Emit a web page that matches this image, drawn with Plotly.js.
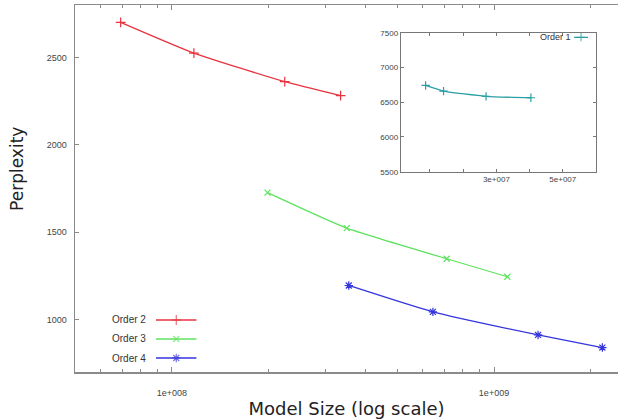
<!DOCTYPE html>
<html>
<head>
<meta charset="utf-8">
<script src="https://cdn.plot.ly/plotly-3.0.1.min.js"></script>
<style>html,body{margin:0;padding:0;background:#fff;}#chart{width:618px;height:419px;}</style>
</head>
<body>
<div id="chart"></div>
<script>
// Main chart data (model size vs perplexity)
const order2X = [6.93e7, 1.17e8, 2.24e8, 3.34e8];
const order2Y = [2701, 2525, 2361, 2281];
const order3X = [1.98e8, 3.49e8, 7.13e8, 1.10e9];
const order3Y = [1726, 1523, 1348, 1245];
const order4X = [3.54e8, 6.46e8, 1.37e9, 2.17e9];
const order4Y = [1195, 1044, 912, 840];
// Inset data
const order1X = [8.7e6, 1.41e7, 2.69e7, 4.04e7];
const order1Y = [6741, 6660, 6584, 6564];
// Tick labels
const mainXTicks = [1e8, 1e9];
const mainXTickText = ['1e+008', '1e+009'];
const mainXMinor = [6e7, 7e7, 8e7, 9e7, 2e8, 3e8, 4e8, 5e8, 6e8, 7e8, 8e8, 9e8, 2e9];
const mainYTicks = [1000, 1500, 2000, 2500];
const insetXTicks = [3e7, 5e7];
const insetXTickText = ['3e+007', '5e+007'];
const insetXMinor = [1e7, 2e7, 4e7];
const insetYTicks = [5500, 6000, 6500, 7000, 7500];
const seriesNames = ['Order 2', 'Order 3', 'Order 4'];
const colors = {o1: '#2a9fa6', o2: '#e8333f', o3: '#5ee35e', o4: '#3535dd'};

function series(x, y, color, symbol, xa, ya, msize) {
  return {
    x: x, y: y, xaxis: xa, yaxis: ya, type: 'scatter', mode: 'lines+markers',
    line: {color: color, width: 1.3, shape: 'spline', smoothing: 0.5},
    marker: {symbol: symbol, size: msize || 7, color: color, line: {color: color, width: 1.2}},
    showlegend: false, hoverinfo: 'skip'
  };
}

const traces = [
  series(order2X, order2Y, colors.o2, 'cross-thin', 'x', 'y', 7),
  series(order3X, order3Y, colors.o3, 'x-thin', 'x', 'y', 6),
  series(order4X, order4Y, colors.o4, 'asterisk-open', 'x', 'y', 7),
  series(order1X, order1Y, colors.o1, 'cross-thin', 'x2', 'y2', 6),
  // legend samples (helper axes)
  {x: [0, 0.5, 1], y: [2, 2, 2], xaxis: 'x3', yaxis: 'y3', mode: 'lines+markers', line: {color: colors.o2, width: 1.3},
   marker: {symbol: 'cross-thin', size: [0, 7, 0], color: colors.o2, line: {color: colors.o2, width: 1.2}}, showlegend: false, hoverinfo: 'skip'},
  {x: [0, 0.5, 1], y: [1, 1, 1], xaxis: 'x3', yaxis: 'y3', mode: 'lines+markers', line: {color: colors.o3, width: 1.3},
   marker: {symbol: 'x-thin', size: [0, 6, 0], color: colors.o3, line: {color: colors.o3, width: 1.2}}, showlegend: false, hoverinfo: 'skip'},
  {x: [0, 0.5, 1], y: [0, 0, 0], xaxis: 'x3', yaxis: 'y3', mode: 'lines+markers', line: {color: colors.o4, width: 1.3},
   marker: {symbol: 'asterisk-open', size: [0, 7, 0], color: colors.o4, line: {color: colors.o4, width: 1.2}}, showlegend: false, hoverinfo: 'skip'},
  {x: [0, 0.5, 1], y: [0, 0, 0], xaxis: 'x4', yaxis: 'y4', mode: 'lines+markers', line: {color: colors.o1, width: 1.3},
   marker: {symbol: 'cross-thin', size: [0, 6, 0], color: colors.o1, line: {color: colors.o1, width: 1.2}}, showlegend: false, hoverinfo: 'skip'}
];

const tickFont = {family: 'Liberation Sans, Arial, sans-serif', size: 9, color: '#444'};
const axisGray = '#8a8a8a';

const layout = {
  width: 618, height: 419,
  margin: {l: 75, r: 0, t: 5, b: 47},
  paper_bgcolor: '#ffffff', plot_bgcolor: 'rgba(0,0,0,0)',
  showlegend: false,
  xaxis: {
    type: 'log', range: [Math.log10(5e7), 9.385],
    tickmode: 'array', tickvals: mainXTicks, ticktext: mainXTickText,
    ticks: 'inside', ticklen: 5, tickwidth: 1, tickcolor: axisGray,
    minor: {tickmode: 'array', tickvals: mainXMinor, ticks: 'inside', ticklen: 3, tickcolor: axisGray, showgrid: false},
    showline: true, linecolor: axisGray, linewidth: 1.5, mirror: 'ticks',
    showgrid: false, zeroline: false, tickfont: tickFont, ticklabelstandoff: 12,
    title: {text: 'Model Size (log scale)', font: {family: 'DejaVu Sans, Verdana, sans-serif', size: 18, color: '#222'}, standoff: 8},
    automargin: false
  },
  yaxis: {
    range: [700, 2800], tickmode: 'array', tickvals: mainYTicks,
    ticks: 'inside', ticklen: 4, tickwidth: 1, tickcolor: axisGray,
    showline: true, linecolor: axisGray, linewidth: 1.5, mirror: false,
    showgrid: false, zeroline: false, tickfont: tickFont, ticklabelstandoff: 5,
    automargin: false
  },
  xaxis2: {
    domain: [0.5998, 0.9595], anchor: 'y2', range: [1.2e6, 6.0e7],
    tickmode: 'array', tickvals: insetXTicks, ticktext: insetXTickText,
    ticks: 'inside', ticklen: 3, tickcolor: '#777',
    minor: {tickmode: 'array', tickvals: insetXMinor, ticks: 'inside', ticklen: 3, tickcolor: '#777', showgrid: false},
    showline: true, linecolor: '#777', linewidth: 1, mirror: 'ticks',
    showgrid: false, zeroline: false, tickfont: {family: 'Liberation Sans, Arial, sans-serif', size: 8, color: '#444'},
    automargin: false
  },
  yaxis2: {
    domain: [0.5458, 0.9245], anchor: 'x2', range: [5500, 7500],
    tickmode: 'array', tickvals: insetYTicks,
    ticks: 'inside', ticklen: 3, tickcolor: '#777',
    showline: true, linecolor: '#777', linewidth: 1, mirror: 'ticks',
    showgrid: false, zeroline: false, tickfont: {family: 'Liberation Sans, Arial, sans-serif', size: 8, color: '#444'},
    automargin: false
  },
  xaxis3: {domain: [0.149, 0.224], anchor: 'y3', range: [0, 1], visible: false, fixedrange: true},
  yaxis3: {domain: [0.01226, 0.1676], anchor: 'x3', range: [-0.5, 2.5], visible: false, fixedrange: true},
  xaxis4: {domain: [0.919, 0.9448], anchor: 'y4', range: [0, 1], visible: false, fixedrange: true},
  yaxis4: {domain: [0.9, 0.924], anchor: 'x4', range: [-1, 1], visible: false, fixedrange: true},
  annotations: [
    {text: 'Perplexity', textangle: -90, xref: 'paper', yref: 'paper', x: -0.107, y: (372 - 169) / 367,
     xanchor: 'center', yanchor: 'middle', showarrow: false,
     font: {family: 'DejaVu Sans, Verdana, sans-serif', size: 17, color: '#222'}},
    {text: seriesNames[0], xref: 'x3', yref: 'y3', x: 0, y: 2, xanchor: 'right', yanchor: 'middle', xshift: -8, showarrow: false,
     font: {family: 'Liberation Sans, Arial, sans-serif', size: 10, color: '#333'}},
    {text: seriesNames[1], xref: 'x3', yref: 'y3', x: 0, y: 1, xanchor: 'right', yanchor: 'middle', xshift: -8, showarrow: false,
     font: {family: 'Liberation Sans, Arial, sans-serif', size: 10, color: '#333'}},
    {text: seriesNames[2], xref: 'x3', yref: 'y3', x: 0, y: 0, xanchor: 'right', yanchor: 'middle', xshift: -8, showarrow: false,
     font: {family: 'Liberation Sans, Arial, sans-serif', size: 10, color: '#333'}},
    {text: 'Order 1', xref: 'x4', yref: 'y4', x: 0, y: 0, xanchor: 'right', yanchor: 'middle', xshift: -1, showarrow: false,
     font: {family: 'Liberation Sans, Arial, sans-serif', size: 9, color: '#333'}}
  ]
};

Plotly.newPlot('chart', traces, layout, {staticPlot: true, displayModeBar: false});
</script>
</body>
</html>
